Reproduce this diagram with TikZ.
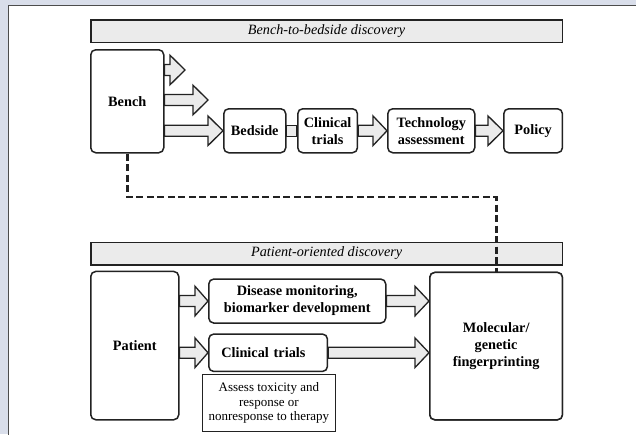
\documentclass[tikz,border=0pt]{standalone}
\usepackage{fontspec}
\setmainfont{Liberation Serif}
\usetikzlibrary{calc}
\definecolor{bgblue}{HTML}{D9DEEA}
\definecolor{barfill}{HTML}{EBEBEB}
\definecolor{inkc}{HTML}{222222}
\tikzset{
  box/.style={draw=inkc, line width=1.5pt, rounded corners=5pt, fill=white, align=center,
    font=\fontsize{14.3}{17}\selectfont\bfseries, inner sep=0pt},
  bar/.style={draw=inkc, line width=1.5pt, fill=barfill, inner sep=0pt,
    font=\fontsize{14.2}{16}\selectfont\itshape},
  notebox/.style={draw=inkc, line width=1.1pt, fill=white, align=center, inner sep=0pt,
    font=\fontsize{13}{14.7}\selectfont},
  fat/.style={draw=inkc, line width=1.3pt, fill=barfill, line join=miter},
  dashlink/.style={draw=inkc, line width=2.8pt, dash pattern=on 7pt off 3.5pt},
}
% fat arrow: #1 start, #2 tip, #3 head length
\newcommand{\fatarrow}[3]{%
  \path[fat] ($(#1)+(0,5.5)$) -- ($(#2)+(-#3,5.5)$) -- ($(#2)+(-#3,14.8)$) -- (#2)
    -- ($(#2)+(-#3,-14.8)$) -- ($(#2)+(-#3,-5.5)$) -- ($(#1)+(0,-5.5)$) -- cycle;}
\begin{document}
\begin{tikzpicture}[x=1pt,y=-1pt]
\useasboundingbox (0,0) rectangle (636,434);
\fill[bgblue] (0,0) rectangle (636,434);
\fill[white] (8.5,5.5) rectangle (640,440);
\draw[line width=1.8pt, draw=black!70] (8.5,440) -- (8.5,5.5) -- (640,5.5);

% header bars
\node[bar, minimum width=471.7pt, minimum height=22.7pt, anchor=north west] (hdrA) at (90,19) {Bench-to-bedside discovery};
\node[bar, minimum width=471.7pt, minimum height=22.3pt, anchor=north west] (hdrB) at (90,241.7) {Patient-oriented discovery};

% top row boxes
\node[box, minimum width=73pt, minimum height=103pt, anchor=north west] (bench) at (90,49) {Bench};
\node[box, minimum width=62pt, minimum height=44pt, anchor=north west] (bedside) at (223,108) {Bedside};
\node[box, minimum width=59.7pt, minimum height=44pt, anchor=north west] (clin) at (297,108) {Clinical\\trials};
\node[box, minimum width=87pt, minimum height=44pt, anchor=north west] (tech) at (387,108) {Technology\\assessment};
\node[box, minimum width=58.7pt, minimum height=44pt, anchor=north west] (policy) at (503,108) {Policy};

% free ends of bench arrows
\coordinate (tipA) at (185,70);
\coordinate (tipB) at (208,100);

\fatarrow{bench.east |- tipA}{tipA}{15}
\fatarrow{bench.east |- tipB}{tipB}{15}
\fatarrow{bench.east |- bedside.west}{bedside.west}{15}
\path[fat] ($(bedside.east)+(0,5.5)$) -- ($(clin.west)+(0,5.5)$) -- ($(clin.west)+(0,-5.5)$) -- ($(bedside.east)+(0,-5.5)$) -- cycle;
\fatarrow{clin.east}{tech.west}{14}
\fatarrow{tech.east}{policy.west}{15}

% bottom boxes
\node[box, minimum width=88pt, minimum height=148.3pt, anchor=north west] (patient) at (90,270.7) {Patient};
\node[box, minimum width=177pt, minimum height=44pt, anchor=north west] (disease) at (208,278.3) {Disease monitoring,\\biomarker development};
\node[box, minimum width=118.7pt, minimum height=37.4pt, anchor=north west, text width=118.7pt, align=left] (clin2) at (208,333.3) {\hspace{12.5pt}Clinical trials};
\node[notebox, minimum width=133.3pt, minimum height=56.7pt, anchor=north west] (note) at (201.7,374) {Assess toxicity and\\response or\\nonresponse to therapy};

% dashed link
\coordinate (turn) at (127,197);
\node[box, minimum width=132.7pt, minimum height=147.3pt, anchor=north west] (mol) at (429,271.7) {\mbox{}};
\draw[dashlink] (bench.south) -- (bench.south |- turn) -- (mol.north |- turn) -- (mol.north);
\node[box, minimum width=132.7pt, minimum height=147.3pt, anchor=north west] (mol) at (429,271.7) {Molecular/\\genetic\\fingerprinting};

\fatarrow{patient.east |- disease.west}{disease.west}{13}
\fatarrow{patient.east |- clin2.west}{clin2.west}{13}
\fatarrow{disease.east}{disease.east -| mol.west}{14}
\fatarrow{clin2.east}{clin2.east -| mol.west}{14}
\end{tikzpicture}
\end{document}
